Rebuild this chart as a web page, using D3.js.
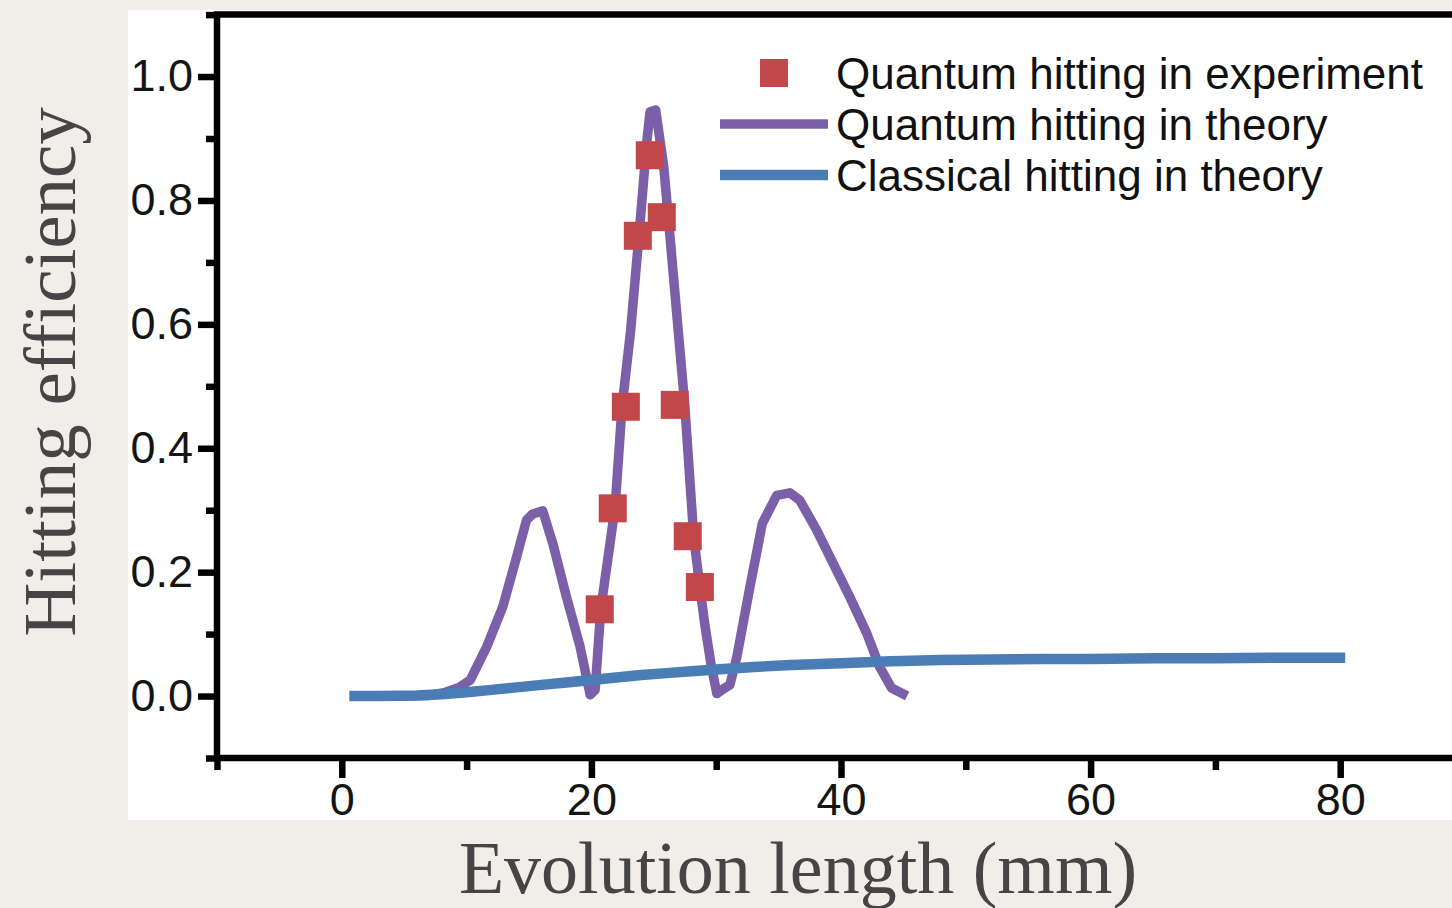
<!DOCTYPE html>
<html>
<head>
<meta charset="utf-8">
<script src="https://cdn.jsdelivr.net/npm/d3@7"></script>
<style>
    html, body { margin: 0; padding: 0; background: #f1eee9; }
    svg { display: block; }
</style>
</head>
<body>
<svg id="vis" width="1452" height="908"></svg>
<script>
/**
 * Chart data
 */
var quantumX = [1, 4, 7, 8.3, 9.4, 10.3, 11.6, 12.9, 14.0, 14.8, 15.3, 16.1, 16.9, 18.0, 19.1, 19.9,
    20.3, 20.75, 21.9, 22.45, 23.15, 23.9, 24.45, 24.7, 25.15, 25.8, 26.44, 27.0, 27.48, 28.2, 28.69,
    29.09, 29.57, 30.05, 30.6, 31.1, 31.65, 32.7, 33.7, 34.85, 35.9, 36.7, 38.05, 39.35, 40.7, 42.05,
    43.1, 44.05, 45.3];
var quantumY = [0, 0, 0.001, 0.006, 0.014, 0.026, 0.079, 0.144, 0.224, 0.284, 0.294, 0.299, 0.247, 0.160, 0.079, 0.002,
    0.010, 0.140, 0.305, 0.466, 0.591, 0.764, 0.897, 0.943, 0.946, 0.854, 0.709, 0.580, 0.470, 0.257, 0.176,
    0.115, 0.053, 0.004, 0.012, 0.018, 0.063, 0.176, 0.279, 0.324, 0.328, 0.316, 0.268, 0.215, 0.160, 0.102,
    0.047, 0.013, 0.0];

var classicalX = [0.6, 3, 6, 8, 10, 12, 14, 16, 18, 20, 22, 24, 26, 28, 30, 33, 36, 40, 44, 48, 52, 56, 60, 65, 70, 75, 80.4];
var classicalY = [0, 0, 0.001, 0.003, 0.006, 0.010, 0.014, 0.018, 0.022, 0.026, 0.030, 0.034, 0.037, 0.040, 0.043,
    0.047, 0.050, 0.053, 0.056, 0.058, 0.059, 0.060, 0.060, 0.061, 0.061, 0.062, 0.062];

var expX = [20.67, 21.71, 22.76, 23.72, 24.68, 25.64, 26.68, 27.72, 28.69];
var expY = [0.140, 0.303, 0.467, 0.743, 0.873, 0.773, 0.470, 0.258, 0.176];

var xMajorTicks = [0, 20, 40, 60, 80];
var xMinorTicks = [-10, 10, 30, 50, 70, 90];
var yMajorTicks = [0, 0.2, 0.4, 0.6, 0.8, 1.0];
var yMinorTicks = [-0.1, 0.1, 0.3, 0.5, 0.7, 0.9, 1.1];

var legendLabels = ["Quantum hitting in experiment", "Quantum hitting in theory", "Classical hitting in theory"];

var xTitle = "Evolution length (mm)";
var yTitle = "Hitting efficiency";

/**
 * Styles
 */
var COLORS = { exp: "#c2474b", quantum: "#7b5fa9", classical: "#4a7db5" };
const PANEL = { x: 128, y: 10, w: 1324, h: 810 };
const SQUARE = 28;
const QUANTUM_W = 9.5;
const CLASSICAL_W = 10.5;

window.onload = function(){
    draw();
};

function draw(){
    var svg = d3.select("#vis");

    // white panel the plot sits on
    svg.append("rect")
        .attr("x", PANEL.x).attr("y", PANEL.y)
        .attr("width", PANEL.w).attr("height", PANEL.h)
        .attr("fill", "#ffffff");

    var x = d3.scaleLinear().domain([-10, 90]).range([217, 1465]);
    var y = d3.scaleLinear().domain([-0.1, 1.1]).range([758, 14.6]);

    // ticks
    var yMajor = d3.axisLeft(y).tickValues(yMajorTicks).tickSize(19).tickPadding(5)
        .tickFormat(d3.format(".1f"));
    var yMinor = d3.axisLeft(y).tickValues(yMinorTicks).tickSize(11).tickFormat("");
    var xMajor = d3.axisBottom(x).tickValues(xMajorTicks).tickSize(20).tickPadding(5)
        .tickFormat(d3.format("d"));
    var xMinor = d3.axisBottom(x).tickValues(xMinorTicks).tickSize(12).tickFormat("");

    [[yMinor, "left"], [yMajor, "left"], [xMinor, "bottom"], [xMajor, "bottom"]].forEach(function(a){
        var g = svg.append("g")
            .attr("transform", a[1] === "left" ? `translate(${x(-10)},0)` : `translate(0,${y(-0.1)})`)
            .call(a[0]);
        g.select(".domain").remove();
        g.selectAll(".tick line").attr("stroke", "#000").attr("stroke-width", 6.5);
        g.selectAll(".tick text")
            .attr("fill", "#151515")
            .style("font-family", "'Liberation Sans', Arial, sans-serif")
            .style("font-size", "45px");
    });

    // frame: left, top, bottom
    svg.append("path")
        .attr("d", `M${x(90)},${y(1.1)}H${x(-10)}V${y(-0.1)}H${x(90)}`)
        .attr("fill", "none")
        .attr("stroke", "#000")
        .attr("stroke-width", 6.5)
        .attr("stroke-linecap", "square");

    var line = d3.line()
        .x(function(d){ return x(d[0]); })
        .y(function(d){ return y(d[1]); });

    // quantum theory
    svg.append("path")
        .datum(d3.zip(quantumX, quantumY))
        .attr("d", line)
        .attr("fill", "none")
        .attr("stroke", COLORS.quantum)
        .attr("stroke-width", QUANTUM_W)
        .attr("stroke-linejoin", "round");

    // classical theory
    svg.append("path")
        .datum(d3.zip(classicalX, classicalY))
        .attr("d", line)
        .attr("fill", "none")
        .attr("stroke", COLORS.classical)
        .attr("stroke-width", CLASSICAL_W)
        .attr("stroke-linejoin", "round");

    // experiment squares
    svg.selectAll("rect.exp")
        .data(d3.zip(expX, expY))
        .enter()
        .append("rect")
        .attr("class", "exp")
        .attr("x", function(d){ return x(d[0]) - SQUARE/2; })
        .attr("y", function(d){ return y(d[1]) - SQUARE/2; })
        .attr("width", SQUARE)
        .attr("height", SQUARE)
        .attr("fill", COLORS.exp);

    // legend
    var legend = svg.append("g").attr("transform", "translate(720,73)");
    var rowH = 51;
    legendLabels.forEach(function(label, i){
        var row = legend.append("g").attr("transform", `translate(0,${i*rowH})`);
        if(i === 0){
            row.append("rect")
                .attr("x", 54 - SQUARE/2).attr("y", -SQUARE/2)
                .attr("width", SQUARE).attr("height", SQUARE)
                .attr("fill", COLORS.exp);
        } else {
            row.append("line")
                .attr("x1", 0).attr("x2", 108)
                .attr("y1", 0).attr("y2", 0)
                .attr("stroke", i === 1 ? COLORS.quantum : COLORS.classical)
                .attr("stroke-width", i === 1 ? QUANTUM_W : CLASSICAL_W);
        }
        row.append("text")
            .attr("x", 116)
            .attr("y", 16)
            .attr("fill", "#111")
            .style("font-family", "'Liberation Sans', Arial, sans-serif")
            .style("font-size", "44px")
            .text(label);
    });

    // axis titles
    svg.append("text")
        .attr("x", 798)
        .attr("y", 893)
        .attr("text-anchor", "middle")
        .attr("fill", "#454545")
        .style("font-family", "'Liberation Serif', 'Times New Roman', serif")
        .style("font-size", "74px")
        .text(xTitle);

    svg.append("text")
        .attr("transform", "translate(75,372) rotate(-90)")
        .attr("text-anchor", "middle")
        .attr("fill", "#454545")
        .style("font-family", "'Liberation Serif', 'Times New Roman', serif")
        .style("font-size", "75px")
        .text(yTitle);
}
</script>
</body>
</html>
